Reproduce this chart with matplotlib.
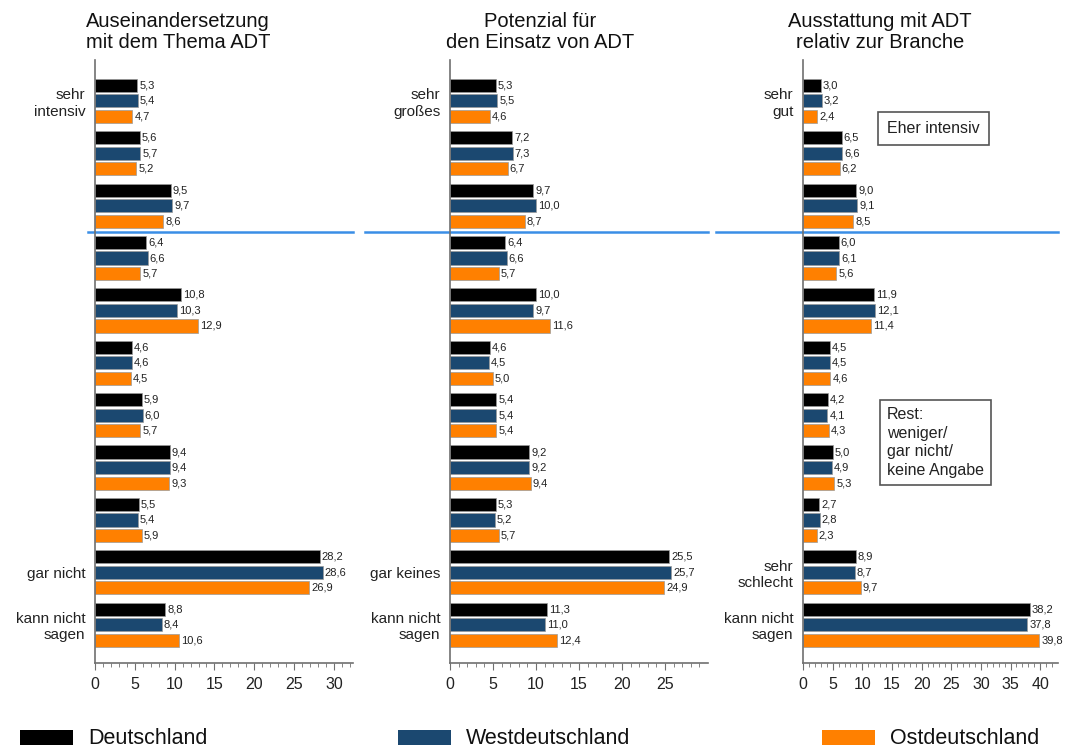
import numpy as np
import matplotlib
matplotlib.use("Agg")
import matplotlib.pyplot as plt
from matplotlib.transforms import blended_transform_factory

# data
titles = ["Auseinandersetzung\nmit dem Thema ADT",
          "Potenzial für\nden Einsatz von ADT",
          "Ausstattung mit ADT\nrelativ zur Branche"]
series = ["Deutschland", "Westdeutschland", "Ostdeutschland"]
colors = ["#000000", "#1b4870", "#ff8000"]

labels1 = ["sehr\nintensiv", "", "", "", "", "", "", "", "", "gar nicht", "kann nicht\nsagen"]
labels2 = ["sehr\ngroßes", "", "", "", "", "", "", "", "", "gar keines", "kann nicht\nsagen"]
labels3 = ["sehr\ngut", "", "", "", "", "", "", "", "", "sehr\nschlecht", "kann nicht\nsagen"]

de1 = [5.3, 5.6, 9.5, 6.4, 10.8, 4.6, 5.9, 9.4, 5.5, 28.2, 8.8]
we1 = [5.4, 5.7, 9.7, 6.6, 10.3, 4.6, 6.0, 9.4, 5.4, 28.6, 8.4]
os1 = [4.7, 5.2, 8.6, 5.7, 12.9, 4.5, 5.7, 9.3, 5.9, 26.9, 10.6]

de2 = [5.3, 7.2, 9.7, 6.4, 10.0, 4.6, 5.4, 9.2, 5.3, 25.5, 11.3]
we2 = [5.5, 7.3, 10.0, 6.6, 9.7, 4.5, 5.4, 9.2, 5.2, 25.7, 11.0]
os2 = [4.6, 6.7, 8.7, 5.7, 11.6, 5.0, 5.4, 9.4, 5.7, 24.9, 12.4]

de3 = [3.0, 6.5, 9.0, 6.0, 11.9, 4.5, 4.2, 5.0, 2.7, 8.9, 38.2]
we3 = [3.2, 6.6, 9.1, 6.1, 12.1, 4.5, 4.1, 4.9, 2.8, 8.7, 37.8]
os3 = [2.4, 6.2, 8.5, 5.6, 11.4, 4.6, 4.3, 5.3, 2.3, 9.7, 39.8]

panels = [
    (titles[0], labels1, [de1, we1, os1], 32.4, np.arange(0, 31, 5)),
    (titles[1], labels2, [de2, we2, os2], 30.0, np.arange(0, 26, 5)),
    (titles[2], labels3, [de3, we3, os3], 43.0, np.arange(0, 41, 5)),
]

fig = plt.figure(figsize=(10.68, 7.49), dpi=100)
plt.rcParams['font.family'] = ['Liberation Sans', 'DejaVu Sans']

lefts = [95, 450, 803]
rights = [353, 708, 1058]
line_starts = [88, 365, 716]
title_x = [178, 540, 880]
W, H = 1068, 749
bottom, top = 663, 60

n = 11
centers = np.arange(n)
gray = "#707070"

for k, (title, labs, vals, xmax, ticks) in enumerate(panels):
    ax = fig.add_axes([lefts[k] / W, 1 - bottom / H, (rights[k] - lefts[k]) / W, (bottom - top) / H])
    for i, v in enumerate(vals):
        y = centers + (i - 1) * 0.297
        ax.barh(y, v, height=0.25, color=colors[i], edgecolor="#9a9a9a", linewidth=0.5)
        for yy, vv in zip(y, v):
            ax.text(vv + xmax * 0.008, yy, f"{vv:.1f}".replace(".", ","),
                    va="center", ha="left", fontsize=8, color="#222222")
    ax.set_ylim(n - 1 + 0.73, -0.78)
    ax.set_xlim(0, xmax)
    ax.set_yticks(centers)
    ax.set_yticklabels(labs, fontsize=11, color="#222222")
    ax.tick_params(axis="y", length=0, pad=7)
    ax.set_xticks(ticks)
    ax.set_xticks(np.arange(0, xmax, 1), minor=True)
    ax.tick_params(axis="x", which="major", length=5, color=gray, labelsize=11.5,
                   labelcolor="#222222", pad=5)
    ax.tick_params(axis="x", which="minor", length=3, color=gray)
    for s in ["top", "right"]:
        ax.spines[s].set_visible(False)
    for s in ["left", "bottom"]:
        ax.spines[s].set_color(gray)
        ax.spines[s].set_linewidth(1.2)
    # separator between the top three categories and the rest
    x0 = (line_starts[k] - lefts[k]) / (rights[k] - lefts[k])
    tr = blended_transform_factory(ax.transAxes, ax.transData)
    ax.plot([x0, 1.0], [2.5, 2.5], transform=tr, color="#3a8ee6", lw=1.8, clip_on=False)
    fig.text(title_x[k] / W, 1 - 32 / H, title, ha="center", va="center",
             fontsize=14.5, linespacing=1.1, color="#111111")
    if k == 2:
        ax.text(0.33, 0.886, "Eher intensiv", transform=ax.transAxes, fontsize=11.5,
                va="center", ha="left", color="#222222",
                bbox=dict(boxstyle="square,pad=0.55", fc="white", ec="#555555", lw=1.2))
        ax.text(0.33, 0.366, "Rest:\nweniger/\ngar nicht/\nkeine Angabe", transform=ax.transAxes,
                fontsize=11.5, va="center", ha="left", linespacing=1.3, color="#222222",
                bbox=dict(boxstyle="square,pad=0.45", fc="white", ec="#555555", lw=1.2))

# legend at the bottom
leg_x = [20, 398, 822]
for i, name in enumerate(series):
    fig.patches.append(plt.Rectangle((leg_x[i] / W, 1 - 745 / H), 53 / W, 15 / H,
                                     transform=fig.transFigure, fc=colors[i], ec="none"))
    fig.text((leg_x[i] + 68) / W, 1 - 738 / H, name, fontsize=15.5, va="center", ha="left",
             color="#111111")

fig.savefig("out.png", dpi=100)
